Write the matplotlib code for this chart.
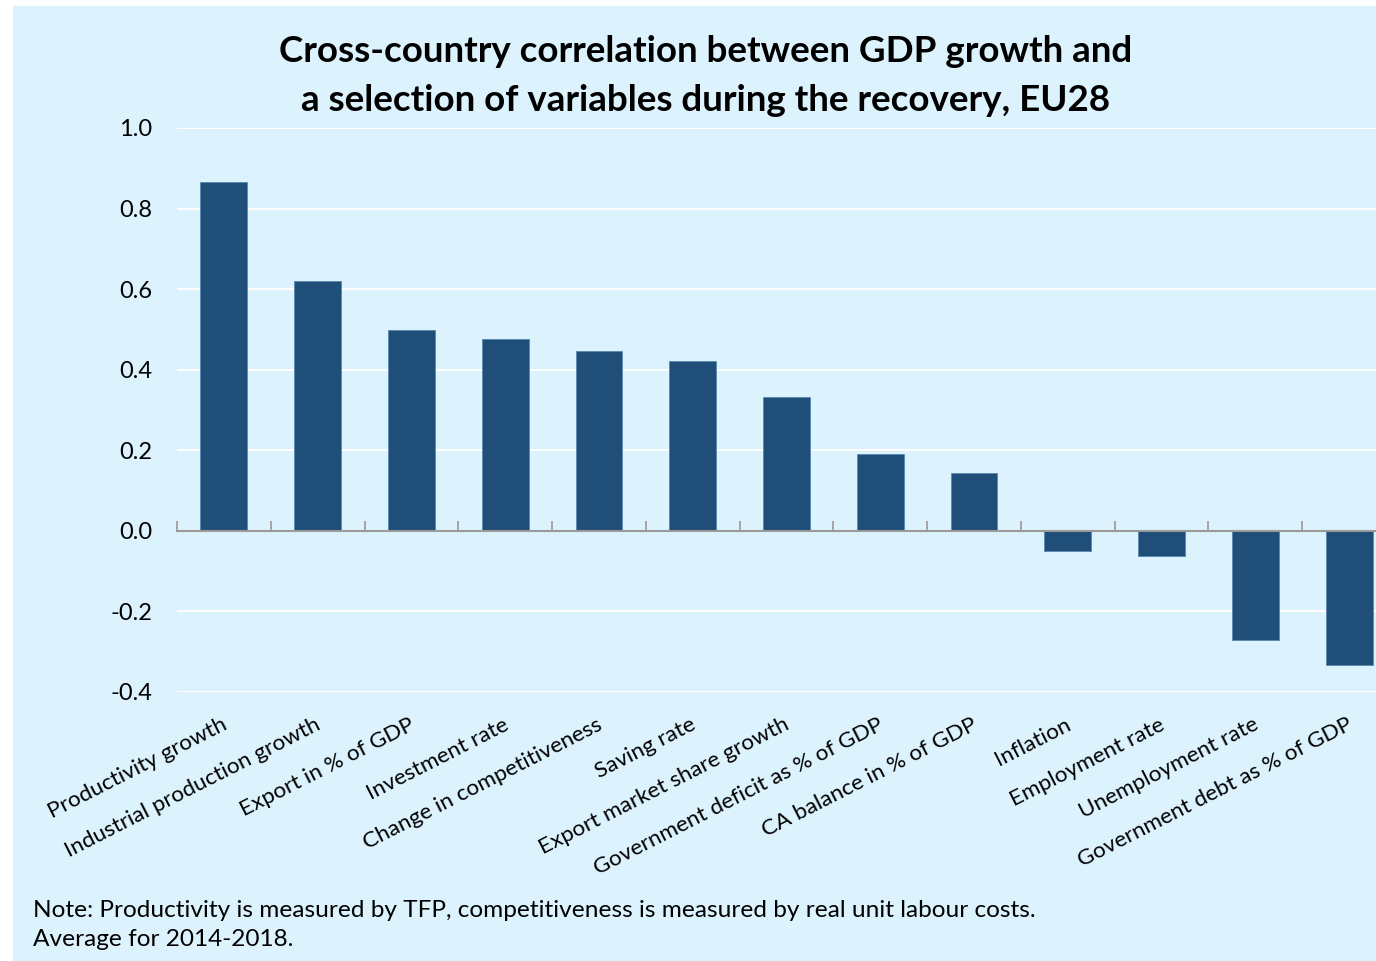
import matplotlib
matplotlib.use("Agg")
import matplotlib.pyplot as plt
import matplotlib.transforms as mtransforms
from matplotlib.patches import Rectangle
import numpy as np

plt.rcParams['font.family'] = ['Lato', 'DejaVu Sans']

variables = [
    "Productivity growth",
    "Industrial production growth",
    "Export in % of GDP",
    "Investment rate",
    "Change in competitiveness",
    "Saving rate",
    "Export market share growth",
    "Government deficit as % of GDP",
    "CA balance in % of GDP",
    "Inflation",
    "Employment rate",
    "Unemployment rate",
    "Government debt as % of GDP",
]
correlation = [0.866, 0.620, 0.499, 0.476, 0.447, 0.422, 0.332,
               0.191, 0.144, -0.051, -0.062, -0.272, -0.333]
y_ticks = [-0.4, -0.2, 0.0, 0.2, 0.4, 0.6, 0.8, 1.0]

title = ("Cross-country correlation between GDP growth and\n"
         "a selection of variables during the recovery, EU28")
note = ("Note: Productivity is measured by TFP, competitiveness is measured by real unit labour costs.\n"
        "Average for 2014-2018.")

bg = "#dcf3fd"
bar_color = "#1f4e79"

W, H = 1376, 961
fig = plt.figure(figsize=(W / 100, H / 100), dpi=100, facecolor="white")
fig.patches.append(Rectangle((13 / W, 0), 1 - 13 / W, 1 - 6 / H,
                             transform=fig.transFigure, facecolor=bg,
                             edgecolor="none", zorder=-1))

# plot area runs past the right edge, the last bar sits at the border
ax = fig.add_axes([177 / W, 1 - 692 / H, 1219 / W, 564 / H])
ax.set_facecolor("none")

x = np.arange(len(variables))
ax.bar(x, correlation, width=0.5, color=bar_color, edgecolor="#5b87b0",
       linewidth=0.6, zorder=3)

ax.set_xlim(-0.5, len(variables) - 0.5)
ax.set_ylim(-0.4, 1.0)
ax.set_yticks(y_ticks)
ax.set_yticklabels([f"{v:.1f}" for v in y_ticks], fontsize=17)
ax.tick_params(axis="y", length=0, pad=18)
ax.grid(axis="y", color="white", linewidth=1.4, zorder=0)

for s in ["left", "right", "top"]:
    ax.spines[s].set_visible(False)
ax.spines["bottom"].set_position(("data", 0))
ax.spines["bottom"].set_color("#9a9a9a")
ax.spines["bottom"].set_linewidth(1.5)
ax.spines["bottom"].set_zorder(4)

# tick marks between categories, pointing up from the zero line
ax.set_xticks([])
ax.set_xticks(np.arange(len(variables) + 1) - 0.5, minor=True)
ax.tick_params(axis="x", which="minor", direction="in", length=7,
               width=1.2, color="#9a9a9a")

trans = mtransforms.blended_transform_factory(ax.transData, ax.transAxes)
for i, name in enumerate(variables):
    ax.text(i - 0.03, -0.04, name, transform=trans, rotation=27,
            rotation_mode="anchor", ha="right", va="top", fontsize=16.2)

fig.text(0.5127, 0.964, title, ha="center", va="top", fontsize=26.5,
         fontweight="bold", linespacing=1.62)
fig.text(33 / W, 1 - 900 / H, note, ha="left", va="top", fontsize=17.6,
         linespacing=1.5)

fig.savefig("out.png", dpi=100, facecolor=fig.get_facecolor())
